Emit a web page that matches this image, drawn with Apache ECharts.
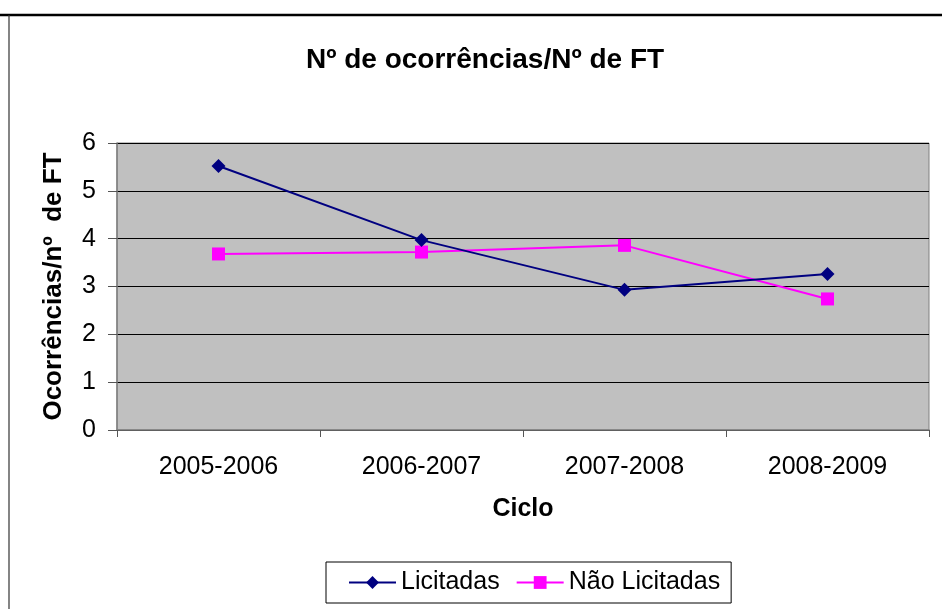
<!DOCTYPE html>
<html><head><meta charset="utf-8">
<script src="https://cdn.jsdelivr.net/npm/echarts@6/dist/echarts.min.js"></script>
<style>html,body{margin:0;padding:0;background:#fff}#c{width:942px;height:609px}</style>
</head><body><div id="c"></div>
<script>
const categories = ['2005-2006','2006-2007','2007-2008','2008-2009'];
const licitadas = [5.52, 3.97, 2.93, 3.26];
const naoLicitadas = [3.68, 3.72, 3.86, 2.74];
const yTicks = [0,1,2,3,4,5,6];

const chart = echarts.init(document.getElementById('c'));
const font = 'Liberation Sans, Arial, sans-serif';
chart.setOption({
  animation: false,
  backgroundColor: '#fff',
  graphic: [
    {type:'line', shape:{x1:0, y1:15, x2:942, y2:15}, style:{stroke:'#000', lineWidth:2.5}, silent:true},
    {type:'line', shape:{x1:9, y1:15, x2:9, y2:609}, style:{stroke:'#333', lineWidth:1.2}, silent:true}
  ],
  title: {
    text: 'Nº de ocorrências/Nº de FT',
    left: 301, top: 41,
    textStyle: {fontFamily: font, fontSize: 28, fontWeight: 'bold', color: '#000'}
  },
  grid: {left: 117, top: 143, right: 13, bottom: 179, show: true, backgroundColor: '#C0C0C0', borderColor: '#808080', borderWidth: 1},
  legend: {
    bottom: 6, left: 326,
    itemWidth: 47, itemHeight: 16, itemGap: 16,
    padding: [8, 11, 8, 22],
    borderColor: '#000', borderWidth: 1, borderRadius: 0,
    textStyle: {fontFamily: font, fontSize: 25, color: '#000'},
    data: ['Licitadas', 'Não Licitadas']
  },
  xAxis: {
    type: 'category', data: categories, boundaryGap: true,
    name: 'Ciclo', nameLocation: 'middle', nameGap: 67,
    nameTextStyle: {fontFamily: font, fontSize: 25, fontWeight: 'bold', color: '#000'},
    axisLine: {lineStyle: {color: '#808080', width: 1.5}},
    axisTick: {show: true, length: 7, lineStyle: {color: '#555'}},
    axisLabel: {fontFamily: font, fontSize: 25, color: '#000', margin: 25},
    splitLine: {show: false}
  },
  yAxis: {
    type: 'value', min: 0, max: 6, interval: 1,
    name: 'Ocorrências/nº  de FT', nameLocation: 'middle', nameGap: 50, nameRotate: 90,
    nameTextStyle: {fontFamily: font, fontSize: 26, fontWeight: 'bold', color: '#000'},
    axisLine: {show: true, lineStyle: {color: '#808080', width: 1.5}},
    axisTick: {show: true, length: 9, lineStyle: {color: '#555'}},
    axisLabel: {fontFamily: font, fontSize: 25, color: '#000', margin: 21,
      formatter: v => yTicks.includes(v) ? String(v) : ''},
    splitLine: {show: true, lineStyle: {color: '#000', width: 1}}
  },
  series: [
    {name: 'Licitadas', type: 'line', data: licitadas, symbol: 'diamond', symbolSize: 14,
     lineStyle: {color: '#000080', width: 2}, itemStyle: {color: '#000080'}, z: 3},
    {name: 'Não Licitadas', type: 'line', data: naoLicitadas, symbol: 'rect', symbolSize: 13,
     lineStyle: {color: '#FF00FF', width: 2}, itemStyle: {color: '#FF00FF'}, z: 2}
  ]
});
</script></body></html>
